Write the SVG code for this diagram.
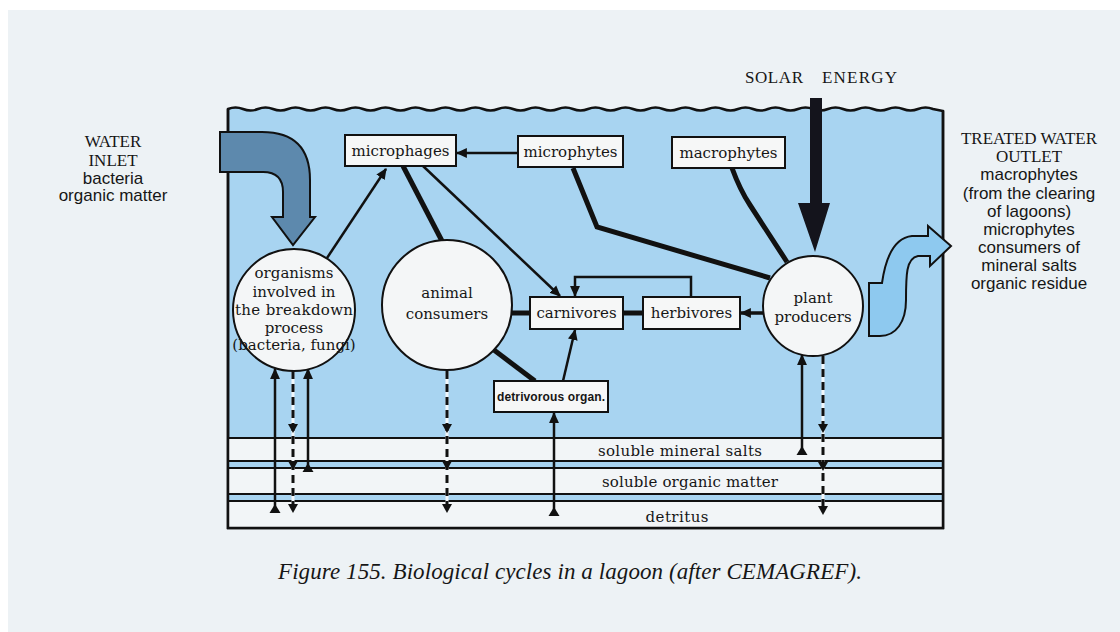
<svg xmlns="http://www.w3.org/2000/svg" xmlns:xlink="http://www.w3.org/1999/xlink" width="1120" height="632" viewBox="0 0 1120 632">
  <style>
    .lbl { font-family: "DejaVu Serif", "Liberation Serif", serif; font-size: 15px; fill: #161616; text-anchor: middle; }
    .box { fill: #f6f7f7; stroke: #111; stroke-width: 2; }
    .circ { fill: #f4f6f7; stroke: #111; stroke-width: 2; }
    .caps { font-family: "Liberation Serif", serif; font-size: 17px; fill: #161616; text-anchor: middle; }
    .side { font-family: "Liberation Sans", Arial, sans-serif; font-size: 17px; fill: #161616; text-anchor: middle; }
    .thick { fill: none; stroke: #111; stroke-width: 5; stroke-linejoin: miter; }
    .thin { fill: none; stroke: #111; stroke-width: 2.5; }
    .dashbg { fill: none; stroke: #f3f7fa; stroke-width: 3; }
    .dash { fill: none; stroke: #111; stroke-width: 3; stroke-dasharray: 8 5; }
    .rule { stroke: #111; stroke-width: 2; }
    .band { fill: #f2f5f7; }
  </style>
  <defs>
    <marker id="ah" viewBox="0 0 10 10" refX="9" refY="5" markerWidth="11" markerHeight="11" markerUnits="userSpaceOnUse" orient="auto">
      <path d="M0,0.5 L10,5 L0,9.5 Z" fill="#111"/>
    </marker>
    <path id="tipDown" d="M-5,-9 L5,-9 L0,0 Z" fill="#111"/>
    <path id="baseUp" d="M-5.5,0 L5.5,0 L0,-9 Z" fill="#111"/>
  </defs>

  <!-- page -->
  <rect width="1120" height="632" fill="#ffffff"/>
  <rect x="8" y="10" width="1112" height="622" fill="#edf2f5"/>

  <!-- lagoon water with wavy surface -->
  <path id="water" d="M228,109 q7.5,-3 15,0 t15,0 t15,0 t15,0 t15,0 t15,0 t15,0 t15,0 t15,0 t15,0 t15,0 t15,0 t15,0 t15,0 t15,0 t15,0 t15,0 t15,0 t15,0 t15,0 t15,0 t15,0 t15,0 t15,0 t15,0 t15,0 t15,0 t15,0 t15,0 t15,0 t15,0 t15,0 t15,0 t15,0 t15,0 t15,0 t15,0 t15,0 t15,0 t15,0 t15,0 t15,0 t15,0 t15,0 t15,0 t15,0 t15,0 L943,111 L943,528 L228,528 Z" fill="#a8d4f1" stroke="#111" stroke-width="2.5"/>

  <!-- sediment layers -->
  <g id="layers">
    <rect class="band" x="228" y="438" width="715" height="90"/>
    <rect x="228" y="462" width="715" height="5" fill="#a8d4f1"/>
    <rect x="228" y="495" width="715" height="5" fill="#a8d4f1"/>
    <line class="rule" x1="228" y1="438" x2="943" y2="438"/>
    <line class="rule" x1="228" y1="461" x2="943" y2="461"/>
    <line class="rule" x1="228" y1="468" x2="943" y2="468"/>
    <line class="rule" x1="228" y1="494" x2="943" y2="494"/>
    <line class="rule" x1="228" y1="501" x2="943" y2="501"/>
    <line x1="227" y1="528" x2="944" y2="528" stroke="#111" stroke-width="2.5"/>
    <line x1="228" y1="109" x2="228" y2="529" stroke="#111" stroke-width="2.5"/>
    <line x1="943" y1="111" x2="943" y2="529" stroke="#111" stroke-width="2.5"/>
    <text class="lbl" x="680" y="456" textLength="164">soluble mineral salts</text>
    <text class="lbl" x="690" y="487" textLength="176">soluble organic matter</text>
    <text class="lbl" x="677" y="522" textLength="63">detritus</text>
  </g>

  <!-- water in and out, sunlight -->
  <g id="flows">
    <path id="inlet" d="M220,132 L262,132 Q310,132 310,180 L310,217 L315,217 L293,245 L272,217 L283,217 L283,192 Q283,172 263,172 L220,172 Z" fill="#5d89ad" stroke="#111" stroke-width="2"/>
    <path id="outlet" d="M869,283 L882,283 C885,262 892,238 912,236 L928,236 L928,226 L951,246 L930,266 L930,256 L918,256 C906,258 906,276 906,300 C906,322 896,336 880,336 L869,336 Z" fill="#8ec9ef" stroke="#111" stroke-width="2"/>
    <path id="solar" d="M810,98 L822,98 L822,203 L830,203 L815,252 L798,203 L810,203 Z" fill="#14141c"/>
  </g>

  <!-- connectors -->
  <g id="connectors">
    <path class="thick" d="M403,166 L442,241"/>
    <path class="thick" d="M573,168 L597,227 L770,278"/>
    <path class="thick" d="M732,168 Q740,190 750,205 L787,262"/>
    <path class="thick" d="M494,350 L535,381"/>
    <line class="thick" x1="511" y1="313" x2="531" y2="313"/>
    <line class="thick" x1="622" y1="313" x2="644" y2="313"/>
    <line class="thin" x1="518" y1="153" x2="457" y2="153" marker-end="url(#ah)"/>
    <line class="thin" x1="327" y1="258" x2="386" y2="169" marker-end="url(#ah)"/>
    <line class="thin" x1="423" y1="166" x2="560" y2="296" marker-end="url(#ah)"/>
    <path class="thin" d="M691,297 V277 H575 V296" marker-end="url(#ah)"/>
    <line class="thin" x1="563" y1="381" x2="575" y2="330" marker-end="url(#ah)"/>
    <line x1="763" y1="313" x2="741" y2="313" stroke="#111" stroke-width="3.5" marker-end="url(#ah)"/>

    <!-- exchanges with the layers -->
    <line class="thin" x1="275" y1="513" x2="275" y2="369" marker-end="url(#ah)"/>
    <use xlink:href="#baseUp" x="275" y="513"/>
    <line class="thin" x1="308" y1="472" x2="308" y2="369" marker-end="url(#ah)"/>
    <use xlink:href="#baseUp" x="308" y="472"/>
    <line class="thin" x1="554" y1="516" x2="554" y2="413" marker-end="url(#ah)"/>
    <use xlink:href="#baseUp" x="554" y="516"/>
    <line class="thin" x1="802" y1="455" x2="802" y2="355" marker-end="url(#ah)"/>
    <use xlink:href="#baseUp" x="802" y="455"/>

    <line class="dashbg" x1="293" y1="371" x2="293" y2="505"/>
    <line class="dash" x1="293" y1="371" x2="293" y2="505"/>
    <use xlink:href="#tipDown" x="293" y="433"/>
    <use xlink:href="#tipDown" x="293" y="470"/>
    <use xlink:href="#tipDown" x="293" y="513"/>

    <line class="dashbg" x1="447" y1="371" x2="447" y2="505"/>
    <line class="dash" x1="447" y1="371" x2="447" y2="505"/>
    <use xlink:href="#tipDown" x="447" y="433"/>
    <use xlink:href="#tipDown" x="447" y="470"/>
    <use xlink:href="#tipDown" x="447" y="513"/>

    <line class="dashbg" x1="823" y1="356" x2="823" y2="507"/>
    <line class="dash" x1="823" y1="356" x2="823" y2="507"/>
    <use xlink:href="#tipDown" x="823" y="433"/>
    <use xlink:href="#tipDown" x="823" y="471"/>
    <use xlink:href="#tipDown" x="823" y="515"/>
  </g>

  <!-- nodes -->
  <g id="microphages">
    <rect class="box" x="345" y="135" width="111" height="31"/>
    <text class="lbl" x="400.5" y="156">microphages</text>
  </g>
  <g id="microphytes">
    <rect class="box" x="518" y="136" width="105" height="31"/>
    <text class="lbl" x="570.5" y="157">microphytes</text>
  </g>
  <g id="macrophytes">
    <rect class="box" x="672" y="137" width="113" height="31"/>
    <text class="lbl" x="728.5" y="158">macrophytes</text>
  </g>
  <g id="carnivores">
    <rect class="box" x="530" y="297" width="93" height="32"/>
    <text class="lbl" x="576.5" y="318">carnivores</text>
  </g>
  <g id="herbivores">
    <rect class="box" x="643" y="297" width="97" height="32"/>
    <text class="lbl" x="691.5" y="318">herbivores</text>
  </g>
  <g id="detrivorous">
    <rect class="box" x="494" y="381" width="114" height="31"/>
    <text x="551" y="401" font-family="Liberation Sans, Arial, sans-serif" font-size="12" font-weight="bold" fill="#161616" text-anchor="middle" textLength="108">detrivorous organ.</text>
  </g>
  <g id="decomposers">
    <circle class="circ" cx="294" cy="310" r="61"/>
    <text class="lbl" x="294" y="278">organisms</text>
    <text class="lbl" x="294" y="297">involved in</text>
    <text class="lbl" x="294" y="315" textLength="118">the breakdown</text>
    <text class="lbl" x="294" y="333">process</text>
    <text class="lbl" x="294" y="350" font-size="12">(bacteria, fungi)</text>
  </g>
  <g id="animal-consumers">
    <circle class="circ" cx="447" cy="305" r="65"/>
    <text class="lbl" x="447" y="298">animal</text>
    <text class="lbl" x="447" y="319">consumers</text>
  </g>
  <g id="plant-producers">
    <circle class="circ" cx="813" cy="306" r="50"/>
    <text class="lbl" x="813" y="303">plant</text>
    <text class="lbl" x="813" y="322">producers</text>
  </g>

  <!-- outside labels -->
  <g id="inlet-label">
    <text class="caps" x="113" y="147">WATER</text>
    <text class="caps" x="113" y="166">INLET</text>
    <text class="side" x="113" y="184">bacteria</text>
    <text class="side" x="113" y="201">organic matter</text>
  </g>
  <g id="solar-label">
    <text x="745" y="83" font-family="Liberation Serif, serif" font-size="17" fill="#161616" textLength="58">SOLAR</text>
    <text x="822" y="83" font-family="Liberation Serif, serif" font-size="17" fill="#161616" textLength="75">ENERGY</text>
  </g>
  <g id="outlet-label">
    <text class="caps" x="1029" y="144">TREATED WATER</text>
    <text class="caps" x="1029" y="162">OUTLET</text>
    <text class="side" x="1029" y="180">macrophytes</text>
    <text class="side" x="1029" y="199">(from the clearing</text>
    <text class="side" x="1029" y="217">of lagoons)</text>
    <text class="side" x="1029" y="235">microphytes</text>
    <text class="side" x="1029" y="253">consumers of</text>
    <text class="side" x="1029" y="271">mineral salts</text>
    <text class="side" x="1029" y="289">organic residue</text>
  </g>

  <text id="caption" x="278" y="579" font-family="Liberation Serif, serif" font-style="italic" font-size="23" fill="#161616" textLength="584">Figure 155. Biological cycles in a lagoon (after CEMAGREF).</text>
</svg>
